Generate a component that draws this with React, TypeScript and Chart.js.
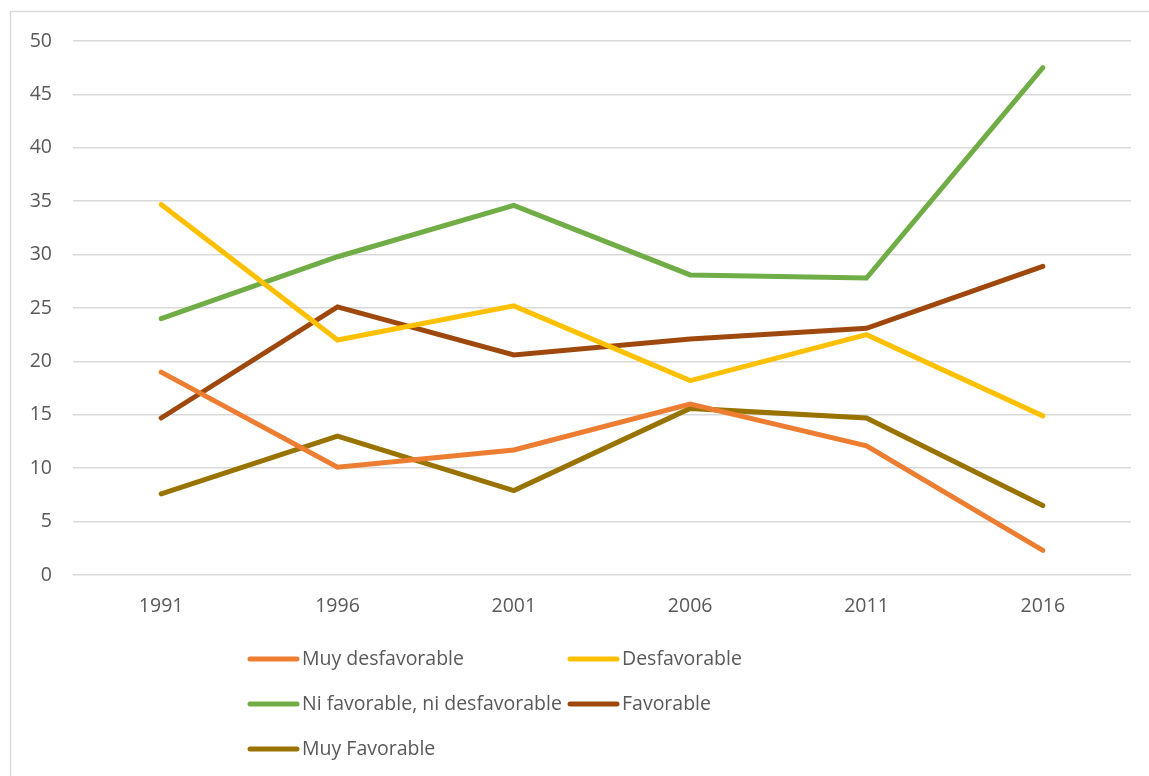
import React, { useEffect, useRef } from "react";
import { Chart, registerables } from "chart.js";

Chart.register(...registerables);

const years = ["1991", "1996", "2001", "2006", "2011", "2016"];
const muyDesfavorable = [19.0, 10.1, 11.7, 16.0, 12.1, 2.3];
const desfavorable = [34.7, 22.0, 25.2, 18.2, 22.5, 14.9];
const niFavorableNiDesfavorable = [24.0, 29.8, 34.6, 28.1, 27.8, 47.5];
const favorable = [14.7, 25.1, 20.6, 22.1, 23.1, 28.9];
const muyFavorable = [7.6, 13.0, 7.9, 15.6, 14.7, 6.5];

const seriesNames = [
  "Muy desfavorable",
  "Desfavorable",
  "Ni favorable, ni desfavorable",
  "Favorable",
  "Muy Favorable",
];
const seriesValues = [muyDesfavorable, desfavorable, niFavorableNiDesfavorable, favorable, muyFavorable];
const seriesColors = ["#ED7D31", "#FFC000", "#70AD47", "#9E480E", "#997300"];

const yMin = 0;
const yMax = 50;
const yStep = 5;

const FONT = "'Open Sans', 'Noto Sans', sans-serif";
const TEXT_COLOR = "#595959";
const FONT_SIZE = 19.5;
const LINE_WIDTH = 5;

const framePlugin = {
  id: "frame",
  beforeDraw(chart: any) {
    const ctx = chart.ctx;
    ctx.save();
    ctx.fillStyle = "#ffffff";
    ctx.fillRect(0, 0, chart.width, chart.height);
    ctx.strokeStyle = "#d9d9d9";
    ctx.lineWidth = 1.5;
    ctx.strokeRect(10.5, 11.5, chart.width + 20, chart.height + 20);
    ctx.restore();
  },
};

const legendPlugin = {
  id: "customLegend",
  afterDraw(chart: any) {
    const ctx = chart.ctx;
    const colX = [248, 568];
    const rowY0 = 659;
    const rowGap = 45;
    ctx.save();
    chart.data.datasets.forEach((ds: any, i: number) => {
      const col = i % 2;
      const row = Math.floor(i / 2);
      const x = colX[col];
      const y = rowY0 + row * rowGap;
      ctx.strokeStyle = ds.borderColor;
      ctx.lineWidth = LINE_WIDTH;
      ctx.lineCap = "round";
      ctx.beginPath();
      ctx.moveTo(x + 2, y);
      ctx.lineTo(x + 49, y);
      ctx.stroke();
      ctx.fillStyle = TEXT_COLOR;
      ctx.font = `${FONT_SIZE}px ${FONT}`;
      ctx.textBaseline = "middle";
      ctx.textAlign = "left";
      ctx.fillText(ds.label, x + 54, y);
    });
    ctx.restore();
  },
};

export default function App() {
  const ref = useRef<HTMLCanvasElement | null>(null);

  useEffect(() => {
    if (!ref.current) return;
    const chart = new Chart(ref.current, {
      type: "line",
      data: {
        labels: years,
        datasets: seriesNames.map((name, i) => ({
          label: name,
          data: seriesValues[i],
          borderColor: seriesColors[i],
          backgroundColor: seriesColors[i],
          borderWidth: LINE_WIDTH,
          borderCapStyle: "round",
          borderJoinStyle: "miter",
          pointRadius: 0,
          pointHoverRadius: 0,
          tension: 0,
          fill: false,
        })),
      },
      options: {
        responsive: false,
        animation: false,
        layout: { padding: { top: 41, right: 18, bottom: 160, left: 0 } },
        plugins: {
          legend: { display: false },
          tooltip: { enabled: false },
          title: { display: false },
        },
        scales: {
          x: {
            type: "category",
            offset: true,
            grid: { display: false, drawTicks: false },
            border: { display: false },
            ticks: {
              color: TEXT_COLOR,
              font: { family: FONT, size: FONT_SIZE },
              padding: 20,
              maxRotation: 0,
            },
            afterFit(scale: any) {
              scale.height = 41;
            },
          },
          y: {
            min: yMin,
            max: yMax,
            grid: { color: "#d9d9d9", lineWidth: 1.5, drawTicks: false },
            border: { display: false },
            ticks: {
              stepSize: yStep,
              color: TEXT_COLOR,
              font: { family: FONT, size: FONT_SIZE },
              padding: 21,
            },
            afterFit(scale: any) {
              scale.width = 73;
            },
          },
        },
      },
      plugins: [framePlugin, legendPlugin],
    });
    return () => chart.destroy();
  }, []);

  return (
    <div style={{ position: "fixed", left: 0, top: 0, width: 1149, height: 776 }}>
      <canvas ref={ref} width={1149} height={776} />
    </div>
  );
}
